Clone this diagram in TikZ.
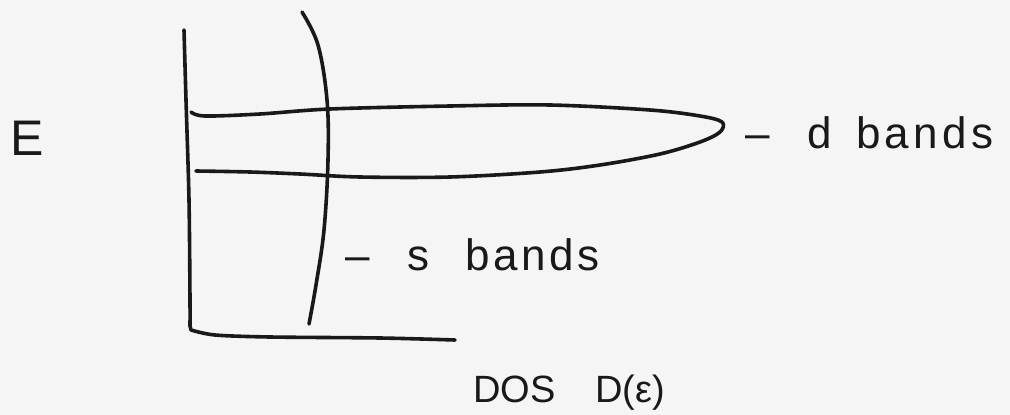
\documentclass[tikz,border=0pt]{standalone}
\usepackage{fontspec}
\setmainfont{Liberation Sans}
\definecolor{paper}{RGB}{245,245,245}
\begin{document}
\begin{tikzpicture}[x=1pt,y=-1pt,
  ink/.style={line width=3.6pt,line cap=round,line join=round,draw=black!90},
  hand/.style={inner sep=0pt,text=black!90},
  big/.style={hand,font=\fontsize{50}{56}\selectfont},
  mid/.style={hand,font=\fontsize{44}{50}\selectfont},
  small/.style={hand,font=\fontsize{38}{44}\selectfont}]
\fill[paper] (0,0) rectangle (1010,415);
\useasboundingbox (0,0) rectangle (1010,415);
% axes
\draw[ink] plot[smooth,tension=0.5] coordinates {(184,30) (186,100) (189,200) (190,300) (190,326)}
  -- plot[smooth,tension=0.5] coordinates {(191,330) (215,335) (270,337) (380,338) (455,340)};
% s band curve
\draw[ink] plot[smooth,tension=0.6] coordinates {(302,12) (318,45) (327,100) (328,160) (324,230) (316,285) (309,324)};
% d band
\draw[ink] plot[smooth,tension=0.55] coordinates {(191,112) (205,116) (260,114) (330,109) (450,106) (550,105) (650,110) (700,116) (722,122) (720,132) (700,142) (660,154) (600,165) (540,172) (450,177) (360,177) (300,174) (250,172) (196,171)};
% labels
\node[big,anchor=base west] (E) at (10,155) {E};
\node[mid,anchor=base west] (dlab) at (745,148) {–\hspace{38pt}d\hspace{24pt}{\addfontfeature{LetterSpace=10}bands}};
\node[mid,anchor=base west] (slab) at (345,270) {–\hspace{38pt}s\hspace{36pt}{\addfontfeature{LetterSpace=8}bands}};
\node[small,anchor=base west] (dos) at (473,402) {DOS\hspace{40pt}D(ε)};
\end{tikzpicture}
\end{document}
